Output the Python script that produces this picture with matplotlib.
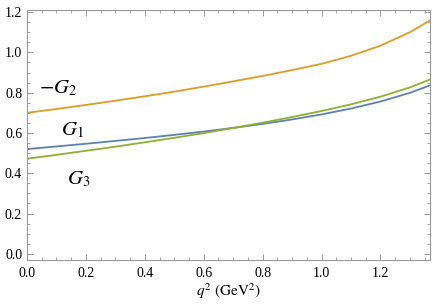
import numpy as np
import matplotlib
matplotlib.use("Agg")
import matplotlib.pyplot as plt
from matplotlib.ticker import MultipleLocator, FormatStrFormatter

# ---- data ----
q2 = [0.0, 0.1, 0.2, 0.3, 0.4, 0.5, 0.6, 0.7, 0.8, 0.9, 1.0, 1.1, 1.2, 1.3, 1.368]
g2_neg = [0.700, 0.719, 0.739, 0.760, 0.782, 0.805, 0.830, 0.856, 0.883, 0.912,
          0.943, 0.983, 1.033, 1.100, 1.158]
g1 = [0.520, 0.533, 0.5465, 0.5605, 0.575, 0.5905, 0.607, 0.625, 0.645, 0.667,
      0.692, 0.721, 0.756, 0.799, 0.836]
g3 = [0.472, 0.4915, 0.5115, 0.532, 0.5535, 0.576, 0.5995, 0.6245, 0.651, 0.679,
      0.709, 0.742, 0.780, 0.826, 0.865]
# -----------------------------------

plt.rcParams['mathtext.fontset'] = 'stix'
plt.rcParams['font.family'] = ['Liberation Serif', 'DejaVu Serif']

fig = plt.figure(figsize=(4.36, 3.04), dpi=100)
ax = fig.add_axes([0.062, 0.145, 0.924, 0.822])

ax.plot(q2, g2_neg, color='#E09C24', lw=1.3)
ax.plot(q2, g1, color='#5E81B5', lw=1.3)
ax.plot(q2, g3, color='#8FB032', lw=1.3)

ax.text(0.105, 0.823, r'$-G_2$', fontsize=15, ha='center', va='center')
ax.text(0.155, 0.61, r'$G_1$', fontsize=15, ha='center', va='center')
ax.text(0.175, 0.367, r'$G_3$', fontsize=15, ha='center', va='center')

ax.set_xlim(0, 1.368)
ax.set_ylim(-0.03, 1.21)
ax.xaxis.set_major_locator(MultipleLocator(0.2))
ax.xaxis.set_minor_locator(MultipleLocator(0.05))
ax.yaxis.set_major_locator(MultipleLocator(0.2))
ax.yaxis.set_minor_locator(MultipleLocator(0.05))
ax.xaxis.set_major_formatter(FormatStrFormatter('%.1f'))
ax.yaxis.set_major_formatter(FormatStrFormatter('%.1f'))

for s in ax.spines.values():
    s.set_color('#999999')
    s.set_linewidth(0.8)
ax.tick_params(which='both', direction='in', top=True, right=True,
               color='#999999', labelsize=10)
ax.tick_params(axis='x', pad=5)
ax.tick_params(which='major', length=4.5, width=0.7)
ax.tick_params(which='minor', length=2.5, width=0.6)

ax.set_xlabel(r'$q^2\ (\mathrm{GeV}^2)$', fontsize=11, labelpad=1)

fig.savefig('out.png', dpi=100)
